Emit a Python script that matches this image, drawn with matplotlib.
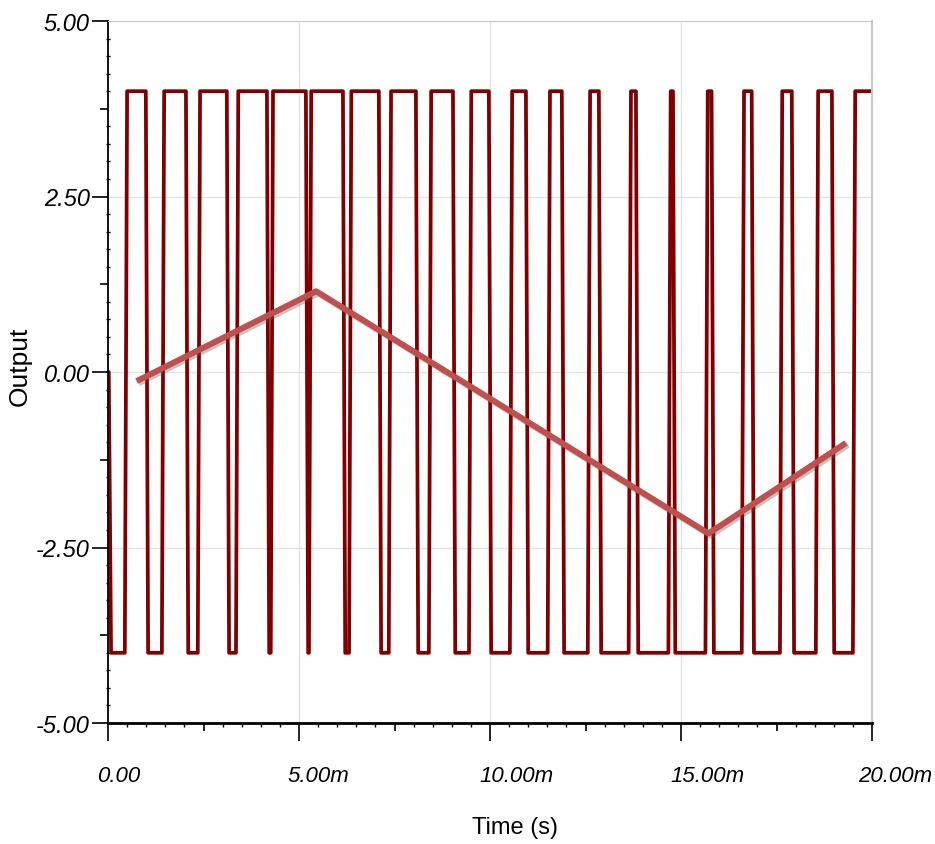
import matplotlib
matplotlib.use("Agg")
import matplotlib.pyplot as plt
import matplotlib.patheffects as pe
from matplotlib import font_manager as fm
from matplotlib.transforms import ScaledTranslation
from matplotlib.ticker import FixedLocator, MultipleLocator

# ---------------- data (time in ms) ----------------
output_start = 0.0
output_high = 4.0
output_low = -4.0
# switching instants of the comparator output (first one is a fall to low, then alternating)
switch_times = [0.05, 0.47, 1.02, 1.44, 2.07, 2.38, 3.14, 3.38, 4.19, 4.29,
                5.21, 5.29, 6.18, 6.34, 7.12, 7.38, 8.09, 8.43, 9.06, 9.48,
                10.00, 10.55, 10.97, 11.54, 11.91, 12.59, 12.88, 13.66, 13.85, 14.70,
                14.82, 15.67, 15.83, 16.62, 16.88, 17.62, 17.93, 18.56, 18.98, 19.53]
t_end = 20.0

tri_t = [0.75, 5.45, 15.72, 19.32]
tri_v = [-0.13, 1.15, -2.30, -1.01]

x_tick_pos = [0, 5, 10, 15, 20]
x_tick_labels = ["0.00", "5.00m", "10.00m", "15.00m", "20.00m"]
y_tick_pos = [-5, -2.5, 0, 2.5, 5]
y_tick_labels = ["-5.00", "-2.50", "0.00", "2.50", "5.00"]

# ---------------- build square wave from switch times ----------------
ramp = 0.06
wt = [0.0]
wv = [output_start]
level = output_start
for i, ts in enumerate(switch_times):
    new = output_low if i % 2 == 0 else output_high
    wt += [ts - ramp / 2, ts + ramp / 2]
    wv += [level, new]
    level = new
wt.append(t_end)
wv.append(level)

# ---------------- fonts ----------------
names = {f.name for f in fm.fontManager.ttflist}
if "Liberation Sans Narrow" in names:
    xtick_font = dict(family="Liberation Sans Narrow", size=20, style="italic")
    ytick_font = dict(family="Liberation Sans Narrow", size=20, style="italic")
    xl_font = dict(family="Liberation Sans Narrow", size=19)
else:
    xtick_font = dict(family="Liberation Sans", size=16, style="italic")
    ytick_font = dict(family="Liberation Sans", size=17, style="italic")
    xl_font = dict(family="Liberation Sans", size=17)
yl_font = dict(family="Liberation Sans", size=19)

# ---------------- figure ----------------
W, H = 935, 845
fig = plt.figure(figsize=(W / 100, H / 100), dpi=100)
ax = fig.add_axes([108 / W, 1 - 724 / H, (872 - 108) / W, (724 - 22) / H])

ax.set_xlim(0, 20)
ax.set_ylim(-5, 5)

# grid
for gx in x_tick_pos[1:-1]:
    ax.axvline(gx, color="#e3e3e3", lw=1.0, zorder=0)
for gy in y_tick_pos[1:-1]:
    ax.axhline(gy, color="#e3e3e3", lw=1.0, zorder=0)

ax.plot(wt, wv, color="#7f0000", lw=2.7, solid_joinstyle="round", zorder=2)
ax.plot(tri_t, tri_v, color="#c0504d", lw=4.3, solid_capstyle="butt", zorder=3,
        path_effects=[pe.SimpleLineShadow(offset=(1.5, -1.5), shadow_color="#555555", alpha=0.35),
                      pe.Normal()])

# spines
ax.spines["left"].set_linewidth(1.3)
ax.spines["bottom"].set_linewidth(2.0)
ax.spines["top"].set_color("#c8c8c8")
ax.spines["right"].set_color("#c8c8c8")
ax.spines["right"].set_linewidth(1.5)

# ticks: majors every half-interval (medium ones shortened), minors
x_major = [i * 2.5 for i in range(9)]
y_major = [-5 + i * 1.25 for i in range(9)]
ax.xaxis.set_major_locator(FixedLocator(x_major))
ax.yaxis.set_major_locator(FixedLocator(y_major))
ax.xaxis.set_minor_locator(MultipleLocator(0.5))
ax.yaxis.set_minor_locator(MultipleLocator(0.25))
xl = [x_tick_labels[x_tick_pos.index(v)] if v in x_tick_pos else "" for v in x_major]
yl = [y_tick_labels[y_tick_pos.index(v)] if v in y_tick_pos else "" for v in y_major]
ax.set_xticks(x_major)
ax.set_xticklabels(xl, **xtick_font)
ax.set_yticks(y_major)
ax.set_yticklabels(yl, **ytick_font)

ax.tick_params(axis="x", which="major", direction="out", length=13, width=1.2, pad=17, colors="black")
ax.tick_params(axis="y", which="major", direction="out", length=11.5, width=1.2, pad=1.5, colors="black")
ax.tick_params(axis="x", which="minor", direction="out", length=3, width=1.0)
ax.tick_params(axis="y", which="minor", direction="inout", length=3.5, width=1.0)

for tk, v in zip(ax.xaxis.get_major_ticks(), x_major):
    if v not in x_tick_pos:
        tk.tick1line.set_markersize(6)
for tk, v in zip(ax.yaxis.get_major_ticks(), y_major):
    if v not in y_tick_pos:
        tk.tick1line.set_markersize(6)

labs = ax.get_xticklabels()
for k, lab in enumerate(labs):
    shift = -14 if k == len(labs) - 1 else -11
    lab.set_ha("left")
    lab.set_transform(lab.get_transform() + ScaledTranslation(shift / 100, 0, fig.dpi_scale_trans))

ax.set_xlabel("Time (s)", **xl_font)
ax.xaxis.set_label_coords(0.533, -0.132)
ax.set_ylabel("Output", **yl_font)
ax.yaxis.set_label_coords(-0.10, 0.51)

fig.savefig("out.png", dpi=100)
